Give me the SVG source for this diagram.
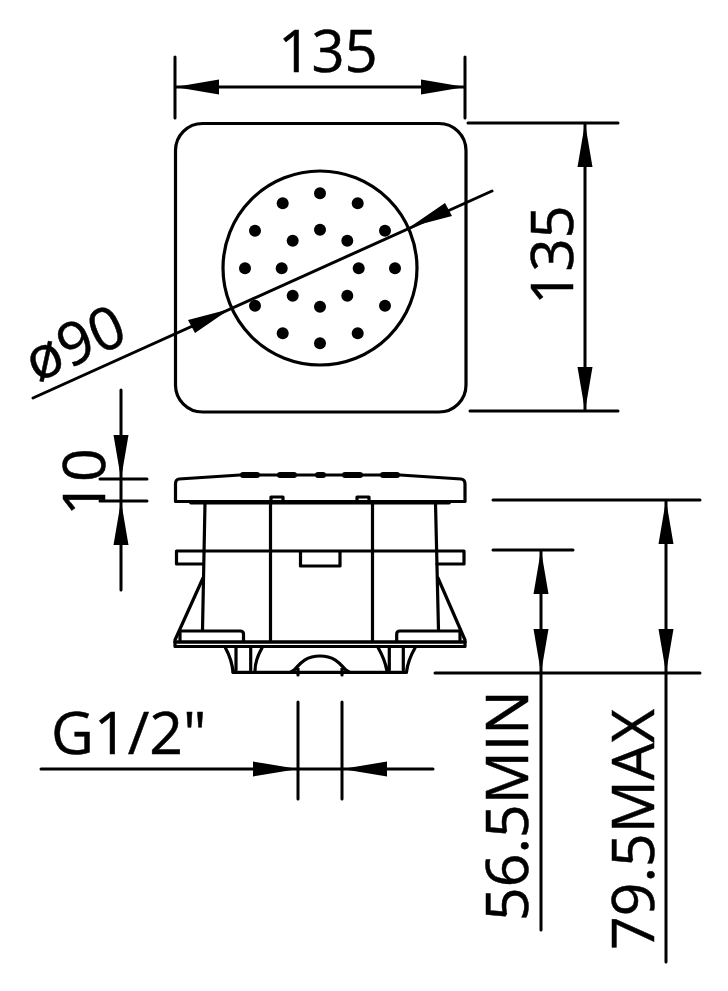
<svg xmlns="http://www.w3.org/2000/svg" width="728" height="991" viewBox="0 0 728 991">
<style>
.l{fill:none;stroke:#000;stroke-width:3.2;stroke-linejoin:round;stroke-linecap:round}
.d{fill:none;stroke:#000;stroke-width:3;stroke-linecap:round}
.t{font-family:"Open Sans",sans-serif;font-size:59px;fill:#000;stroke:#000;stroke-width:.5}
.a{fill:#000;stroke:none}
.h{fill:#000}
</style>
<rect width="728" height="991" fill="#fff"/>
<g id="top-view">
<rect class="l" x="175.500" y="123.500" width="290.500" height="288.500" rx="27" ry="27"/>
<circle class="l" cx="320" cy="268" r="97"/>
<g class="h">
<circle cx="320" cy="193.300" r="6"/><circle cx="282.700" cy="203.300" r="6"/><circle cx="357.700" cy="203.300" r="6"/>
<circle cx="255" cy="230.700" r="6"/><circle cx="292.700" cy="240.700" r="6"/><circle cx="320" cy="229.700" r="6"/><circle cx="347.300" cy="240.700" r="6"/><circle cx="385" cy="230.700" r="6"/>
<circle cx="245" cy="268.300" r="6"/><circle cx="281.700" cy="268.300" r="6"/><circle cx="358.700" cy="268.300" r="6"/><circle cx="395" cy="268.300" r="6"/>
<circle cx="292.700" cy="295.700" r="6"/><circle cx="347.300" cy="295.700" r="6"/><circle cx="255" cy="305.700" r="6"/><circle cx="320" cy="306.700" r="6"/><circle cx="385" cy="305.700" r="6"/>
<circle cx="282.700" cy="333.300" r="6"/><circle cx="357.700" cy="333.300" r="6"/><circle cx="320" cy="343.300" r="6"/>
</g>
</g>
<g id="side-view">
<path class="l" d="M175.500 484 Q175.500 479.500 179 479 L240 475 H400 L461 479 Q465 479.500 465 484 V501.500 H175.500 Z"/>
<path class="l" style="stroke-width:4" d="M191 502.500H449"/>
<g class="h"><rect x="240" y="472" width="20" height="6" rx="3"/><rect x="277" y="472" width="20" height="6" rx="3"/><rect x="315" y="472" width="11" height="6" rx="3"/><rect x="342" y="472" width="21" height="6" rx="3"/><rect x="380" y="472" width="20" height="6" rx="3"/></g>
<path class="l" d="M271 501V497H283V501M357 501V497H369V501"/>
<path class="l" d="M205 503L202.500 630M270.500 503V641M372.500 503V641M435.500 503L438.500 630"/>
<path class="l" d="M202 551H176.500V564H203M438 551H464V564H437M202 551H438"/>
<path class="l" d="M300.500 552V566H340V552"/>
<path class="l" d="M203 578L175 640V646.500H465V640L438 578"/>
<path class="l" style="stroke-width:3.400" d="M175 642H465"/>
<path class="l" d="M180 640V631H240Q243.500 631 243.500 634V641M460 640V631H400Q396.700 631 396.700 634V641"/>
<path class="l" d="M225.500 648Q232 660 233 672M236 648V670M250.700 648V670M262 648Q255 660 255 671M378.300 648Q385 660 386.700 670M389.300 648V670M403.300 648V670M415 648Q408 660 406.500 672"/>
<path class="l" d="M233 672.300H406.500M290 672C297 672 299 656 320 656C341 656 343 672 350 672M298 668V675M342 668V675"/>
</g>
<g id="connectors">
<path class="d" d="M175 57V118M465 57V118M175 87H465"/>
<path class="a" d="M175 87L219 79.500V94.500ZM465 87L421 79.500V94.500Z"/>
<path class="d" d="M468 123H618M470 411H618M585 123V411"/>
<path class="a" d="M585 123L577.500 167H592.500ZM585 411L577.500 367H592.500Z"/>
<path class="d" d="M33 398L492 191"/>
<path class="a" d="M230 309L195 333L188 320ZM410 227L445 203L452 216Z"/>
<path class="d" d="M121 390V590M100 479H147M100 501H147"/>
<path class="a" d="M121 479L113.500 435H128.500ZM121 501L113.500 545H128.500Z"/>
<path class="d" d="M493 500H700M493 550H573M435 673H700M541 550V930M666 500V962"/>
<path class="a" d="M541 550L533.500 594H548.500ZM541 673L533.500 629H548.500ZM666 500L658.500 544H673.500ZM666 673L658.500 629H673.500Z"/>
<path class="d" d="M41 769H433M298 702V799M342 702V799"/>
<path class="a" d="M298 769L253 761.500V776.500ZM342 769L387 761.500V776.500Z"/>
</g>
<g id="labels">
<text class="t" x="328" y="72" text-anchor="middle" style="font-size:58px">135</text>
<text class="t" transform="translate(573 255) rotate(-90)" text-anchor="middle" style="font-size:58px">135</text>
<text class="t" transform="translate(36 383) rotate(-24)">ø90</text>
<text class="t" transform="translate(105 482) rotate(-90)" text-anchor="middle">10</text>
<text class="t" x="51" y="754">G1/2"</text>
<text class="t" transform="translate(528 921) rotate(-90)">56.5MIN</text>
<text class="t" transform="translate(654 950) rotate(-90)">79.5MAX</text>
</g>
</svg>
